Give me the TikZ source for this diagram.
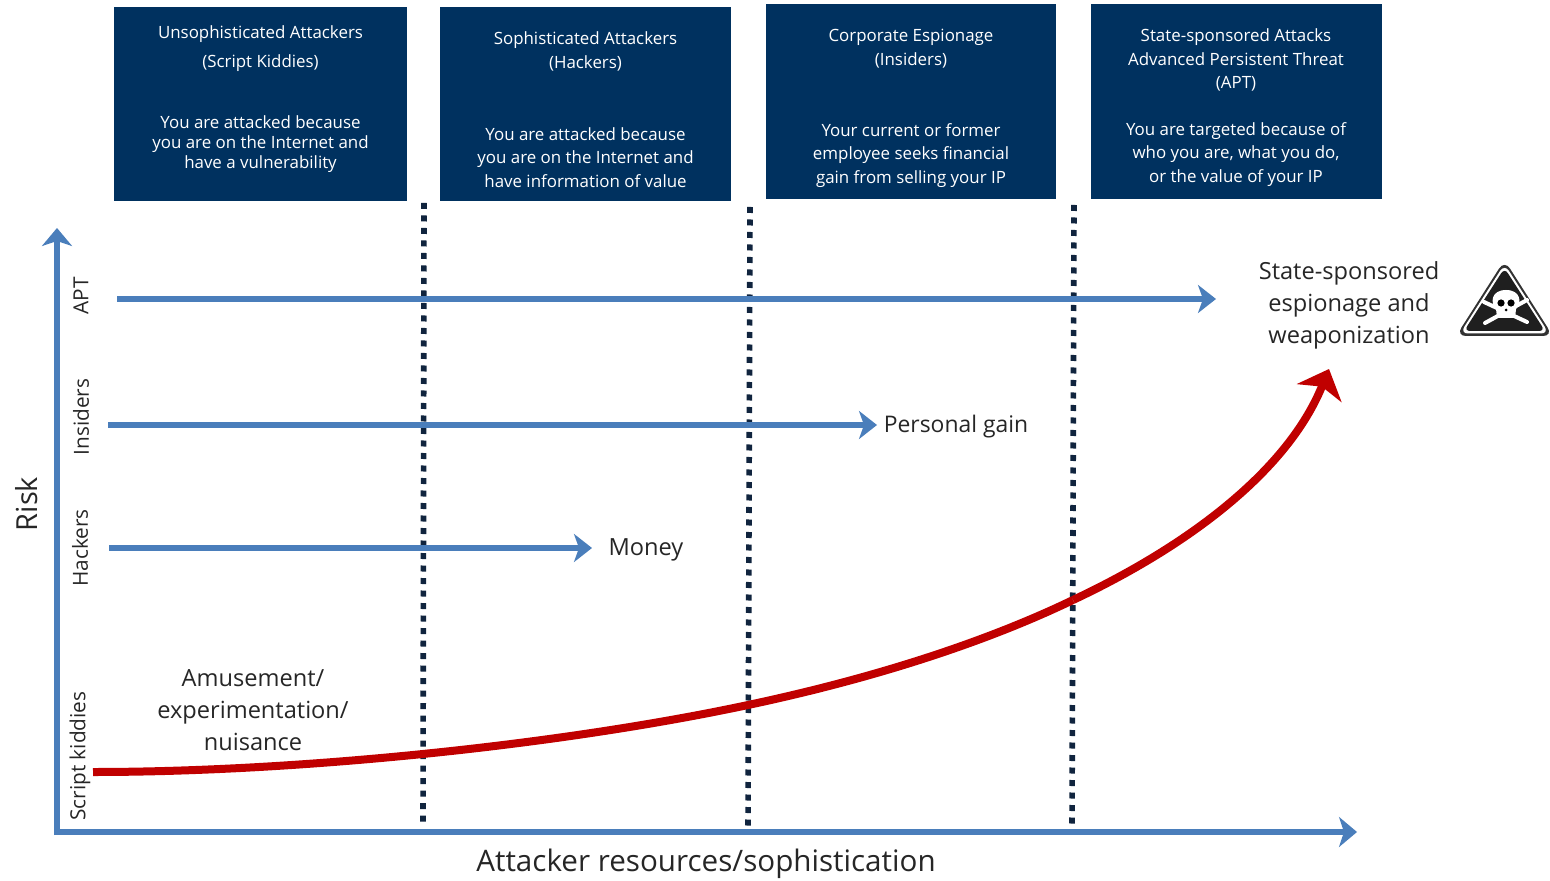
\documentclass[tikz,border=0pt]{standalone}
\usepackage{fontspec}
\setmainfont{Open Sans}
\usetikzlibrary{arrows.meta}
\definecolor{boxblue}{HTML}{00315F}
\definecolor{axisblue}{HTML}{4A7EBB}
\definecolor{riskred}{HTML}{C00000}
\definecolor{dotnavy}{HTML}{10243E}
\definecolor{inktext}{HTML}{262626}
\tikzset{
 threatbox/.style={fill=boxblue,draw=none,inner sep=0pt},
 boxtext/.style={text=white,align=center,inner sep=0pt,font=\fontsize{8.45}{#1}\selectfont},
 lab/.style={text=inktext,align=center,inner sep=0pt,font=\fontsize{11.8}{16}\selectfont},
 vlab/.style={text=inktext,inner sep=0pt,rotate=90,font=\fontsize{10.4}{12}\selectfont},
 axisline/.style={draw=axisblue,line width=3pt,-{Stealth[length=9pt,width=15pt,inset=2.5pt]}},
 levelline/.style={draw=axisblue,line width=2.9pt,-{Stealth[length=9pt,width=14pt,inset=2.5pt]}},
 dotline/.style={draw=dotnavy,line width=2.8pt,dash pattern=on 3pt off 3.25pt},
 riskcurve/.style={draw=riskred,line width=4pt,-{Stealth[length=13pt,width=24pt,inset=3.5pt]}},
}
\begin{document}
\begin{tikzpicture}[x=0.5pt,y=-0.5pt]
\useasboundingbox (0,0) rectangle (1550,881);
% boxes
\path[threatbox] (114,7) rectangle (407,201);
\path[threatbox] (440,7) rectangle (731,201);
\path[threatbox] (766,4) rectangle (1056,199);
\path[threatbox] (1091,4) rectangle (1382,199);
\node[boxtext=14.5] (t1) at (260.5,48.5) {Unsophisticated Attackers\\(Script Kiddies)};
\node[boxtext=10] (b1) at (260.5,144.5) {You are attacked because\\you are on the Internet and\\have a vulnerability};
\node[boxtext=11.75] (t2) at (585.5,51.5) {Sophisticated Attackers\\(Hackers)};
\node[boxtext=11.75] (b2) at (585.5,157.5) {You are attacked because\\you are on the Internet and\\have information of value};
\node[boxtext=11.75] (t3) at (911,48.5) {Corporate Espionage\\(Insiders)};
\node[boxtext=11.75] (b3) at (911,155.5) {Your current or former\\employee seeks financial\\gain from selling your IP};
\node[boxtext=11.75] (t4) at (1236,60) {State-sponsored Attacks\\Advanced Persistent Threat\\(APT)};
\node[boxtext=11.75] (b4) at (1236,154.5) {You are targeted because of\\who you are, what you do,\\or the value of your IP};
% dotted
\coordinate (d1a) at (424,203); \coordinate (d1b) at (423,823);
\coordinate (d2a) at (750,207); \coordinate (d2b) at (748,826);
\coordinate (d3a) at (1074,205); \coordinate (d3b) at (1072,826);
\draw[dotline] (d1a) -- (d1b);
\draw[dotline] (d2a) -- (d2b);
\draw[dotline] (d3a) -- (d3b);
% axes
\coordinate (origin) at (57,832);
\coordinate (ytop) at (57,228);
\coordinate (xend) at (1357,832);
\draw[axisline] ([yshift=-1.5pt]origin) -- (ytop);
\draw[axisline] ([xshift=-1.5pt]origin) -- (xend);
% level arrows
\coordinate (a1) at (117,299); \coordinate (a1e) at (1216,299);
\coordinate (a2) at (108,425); \coordinate (a2e) at (877,425);
\coordinate (a3) at (109,548); \coordinate (a3e) at (592,548);
\draw[levelline] (a1) -- (a1e);
\draw[levelline] (a2) -- (a2e);
\draw[levelline] (a3) -- (a3e);
% curve
\coordinate (c0) at (93,772);
\coordinate (c1) at (748,705);
\coordinate (c2) at (1073,600);
\coordinate (c3) at (1329,369);
\draw[riskred,line width=4pt] (c0) .. controls (300,772) and (560,745) .. (c1) .. controls (880,677) and (990,640) .. (c2);
\draw[riskcurve] (c2) .. controls (1190,545) and (1288,470) .. (c3);
% labels
\node[font=\fontsize{14.5}{16}\selectfont,text=inktext,rotate=90,inner sep=0pt] (risk) at (27,504) {Risk};
\node[font=\fontsize{14.8}{16}\selectfont,text=inktext,inner sep=0pt] (xlab) at (706,864) {Attacker resources/sophistication};
\node[vlab] (v1) at (81,296) {APT};
\node[vlab] (v2) at (81,417) {Insiders};
\node[vlab] (v3) at (80,548) {Hackers};
\node[vlab] (v4) at (80,756) {Script kiddies};
\node[lab] (l1) at (1349,305.5) {State-sponsored\\espionage and\\weaponization};
\node[lab,font=\fontsize{11.45}{16}\selectfont] (l2) at (956,427) {Personal gain};
\node[lab] (l3) at (646,550) {Money};
\node[lab] (l4) at (253,710) {Amusement/\\experimentation/\\nuisance};
% skull sign
\begin{scope}[line join=round]
\fill[black!80,rounded corners=5pt] (1504.5,260) -- (1553,336) -- (1456,336) -- cycle;
\fill[white,rounded corners=4pt] (1504.5,264) -- (1549,333.5) -- (1460,333.5) -- cycle;
\fill[black!88,rounded corners=3pt] (1504.5,268) -- (1545,331) -- (1464,331) -- cycle;
\draw[white,line width=2pt,line cap=round] (1484,302) -- (1527,322);
\draw[white,line width=2pt,line cap=round] (1527,300) -- (1485,323);
\fill[white] (1506,290) .. controls (1521,290) and (1522,303) .. (1516,309) -- (1515,318) -- (1497,318) -- (1496,309) .. controls (1490,303) and (1491,290) .. (1506,290) -- cycle;
\fill[black] (1501,303) circle[radius=3.6];
\fill[black] (1511,303) circle[radius=3.6];
\fill[black] (1506,310) circle[radius=1.5];
\end{scope}
\end{tikzpicture}
\end{document}
